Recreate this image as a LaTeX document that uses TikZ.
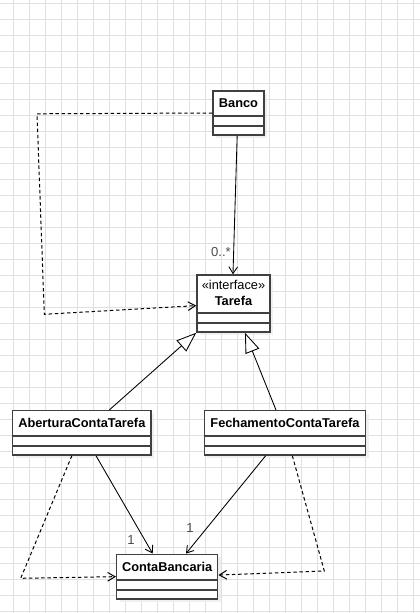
\documentclass[tikz,border=0pt]{standalone}
\usepackage{fontspec}
\setmainfont{Liberation Sans}
\usetikzlibrary{arrows.meta, positioning, fit, shadows}
\tikzset{
    gridline/.style={draw=black!12, line width=0.5pt},
    classbox/.style={rectangle, draw=black!75, line width=1.1pt, fill=white, inner sep=0pt,
        drop shadow={shadow xshift=2.2pt, shadow yshift=-2.2pt, fill=black!8, opacity=0.7}},
    compline/.style={draw=black!75, line width=1.1pt},
    classname/.style={font=\bfseries\fontsize{9.6}{11}\selectfont, inner sep=0pt},
    stereotype/.style={font=\fontsize{9.6}{11}\selectfont, inner sep=0pt},
    multlabel/.style={font=\fontsize{9.8}{11}\selectfont, text=black!70, inner sep=0pt},
    assocarrow/.style={-{Straight Barb[length=5pt, width=6.5pt]}, line width=0.65pt},
    dependarrow/.style={-{Straight Barb[length=5.5pt, width=6.5pt]}, line width=0.75pt, dash pattern=on 2.6pt off 2pt},
    generalarrow/.style={-{Triangle[open, length=15pt, width=11pt, fill=white]}, line width=0.65pt}
}
\begin{document}
\begin{tikzpicture}[x=0.75pt, y=-0.75pt]
        \useasboundingbox (0,0) rectangle (420,613);
        \fill[white] (0,0) rectangle (420,613);

        % ------------------
        % grid
        % ------------------

        \foreach \gx in {0,...,25}
            \draw[gridline] ({13.3+16*\gx},0) -- ({13.3+16*\gx},613);
        \foreach \gy in {0,...,38}
            \draw[gridline] (0,{3.3+16*\gy}) -- (420,{3.3+16*\gy});

        % ------------------
        % classes
        % ------------------

        \node[classbox, fit={(213,91) (264,135)}] (banco) {};
        \node[classname] (banconame) at (banco.north |- 0,103.5) {Banco};
        \draw[compline] (banco.west |- 0,116) -- (banco.east |- 0,116);
        \draw[compline] (banco.west |- 0,126) -- (banco.east |- 0,126);

        \node[classbox, fit={(197,275) (270,332)}] (tarefa) {};
        \node[stereotype] (tarefastereo) at (tarefa.north |- 0,285) {«interface»};
        \node[classname] (tarefaname) at (tarefa.north |- 0,301) {Tarefa};
        \draw[compline] (tarefa.west |- 0,313) -- (tarefa.east |- 0,313);
        \draw[compline] (tarefa.west |- 0,323) -- (tarefa.east |- 0,323);

        \node[classbox, fit={(12.7,410.7) (151,455)}] (abertura) {};
        \node[classname] (aberturaname) at (abertura.north |- 0,423.4) {AberturaContaTarefa};
        \draw[compline] (abertura.west |- 0,436) -- (abertura.east |- 0,436);
        \draw[compline] (abertura.west |- 0,446) -- (abertura.east |- 0,446);

        \node[classbox, fit={(204.3,410.7) (365.7,455)}] (fechamento) {};
        \node[classname] (fechamentoname) at (fechamento.north |- 0,423.4) {FechamentoContaTarefa};
        \draw[compline] (fechamento.west |- 0,436) -- (fechamento.east |- 0,436);
        \draw[compline] (fechamento.west |- 0,446) -- (fechamento.east |- 0,446);

        \node[classbox, fit={(116.7,554.3) (217.7,599)}] (conta) {};
        \node[classname] (contaname) at (conta.north |- 0,567) {ContaBancaria};
        \draw[compline] (conta.west |- 0,580) -- (conta.east |- 0,580);
        \draw[compline] (conta.west |- 0,590) -- (conta.east |- 0,590);

        % ------------------
        % bends of the dashed lines
        % ------------------

        \coordinate (bancobendA) at (37,113.8);
        \coordinate (bancobendB) at (44.3,314.3);
        \coordinate (aberturabend) at (20.7,578.3);
        \coordinate (fechamentobend) at (324.3,571);

        % ------------------
        % arrows
        % ------------------

        \draw[assocarrow] ([xshift=-1pt]banco.south) -- ([xshift=-0.4pt]tarefa.north);
        \node[multlabel] (bancomult) at (221,252) {0..*};

        \draw[dependarrow] (banco.west) -- (bancobendA) -- (bancobendB) -- ([yshift=-1.6pt]tarefa.west);

        \draw[generalarrow] ([xshift=20.6pt]abertura.north) -- (tarefa.south west);
        \draw[generalarrow] ([xshift=-6.75pt]fechamento.north) -- ([xshift=8.6pt]tarefa.south);

        \draw[assocarrow] ([xshift=10.6pt]abertura.south) -- ([xshift=-10.9pt]conta.north);
        \node[multlabel] (aberturamult) at (131,540) {1};
        \draw[assocarrow] ([xshift=-14.5pt]fechamento.south) -- ([xshift=14.1pt]conta.north);
        \node[multlabel] (fechamentomult) at (190,528) {1};

        \draw[dependarrow] ([xshift=-7.5pt]abertura.south) -- (aberturabend) -- (conta.west);
        \draw[dependarrow] ([xshift=5.5pt]fechamento.south) -- (fechamentobend) -- ([yshift=1.2pt]conta.east);

    \end{tikzpicture}
\end{document}
